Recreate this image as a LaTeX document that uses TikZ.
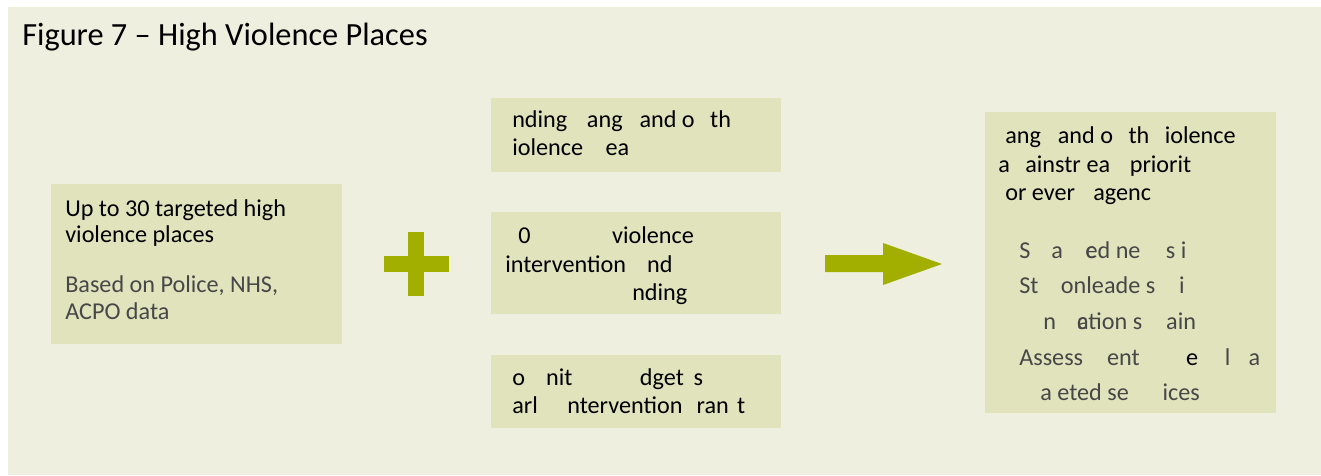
\documentclass[tikz,border=0pt]{standalone}
\usepackage{fontspec}
\setmainfont{Carlito}
\definecolor{PageBg}{HTML}{EFEFDF}
\definecolor{BoxFill}{HTML}{E1E3BD}
\definecolor{Olive}{HTML}{A3AF00}
\newcommand\boxfont{\fontsize{17.2}{20}\selectfont}
\newcommand\gap[1]{\hspace*{#1pt}}
\tikzset{
  box/.style={fill=BoxFill, draw=none, inner sep=0pt},
  rowtext/.style={anchor=base west, inner sep=0pt, font=\boxfont},
  lightrow/.style={rowtext, text=black!72},
}
\begin{document}
\begin{tikzpicture}[x=0.025cm,y=-0.025cm]
		\useasboundingbox (0,0) rectangle (1321,475);
		\fill[PageBg] (8,7) rectangle (1321,475);
		\node[anchor=base west, inner sep=0pt, font=\fontsize{23}{27}\selectfont] (Title) at (22,45) {Figure 7 -- High Violence Places};
		
		% Boxes
		\node[box, minimum width=7.275cm, minimum height=4cm] (Places) at (196.5,264) {};
		\node[box, minimum width=7.25cm, minimum height=1.85cm] (Funding) at (636,135) {};
		\node[box, minimum width=7.25cm, minimum height=2.55cm] (Intervention) at (636,263) {};
		\node[box, minimum width=7.25cm, minimum height=1.825cm] (Budgets) at (636,391.5) {};
		\node[box, minimum width=7.275cm, minimum height=7.525cm] (Priority) at (1130.5,262.5) {};
		
		% Plus and arrow
		\fill[Olive] (408,232) rectangle (424,296);
		\fill[Olive] (384,256) rectangle (449,272);
		\fill[Olive] (825,255) -- (883,255) -- (883,243) -- (942,264) -- (883,285) -- (883,272) -- (825,272) -- cycle;
		
		% Left box
		\node[rowtext] (Places1) at (65,216) {Up to 30 targeted high};
		\node[rowtext] (Places2) at (65,242) {violence places};
		\node[lightrow] (Places3) at (65,292) {Based on Police, NHS,};
		\node[lightrow] (Places4) at (65,319) {ACPO data};
		
		% Middle boxes
		\node[rowtext] (Funding1) at (512,127) {nding\gap{14}ang\gap{12}and o\gap{11}th};
		\node[rowtext] (Funding2) at (512,155) {iolence\gap{16}ea};
		
		\node[rowtext] (Intervention1) at (518,243) {0\gap{58}violence};
		\node[rowtext] (Intervention2) at (505,272) {intervention\gap{15}nd};
		\node[rowtext] (Intervention3) at (632,300) {nding};
		
		\node[rowtext] (Budgets1) at (512,385) {o\gap{15}nit\gap{48}dget\gap{7}s};
		\node[rowtext] (Budgets2) at (512,413) {arl\gap{21}ntervention\gap{10}ran\gap{6}t};
		
		% Right box
		\node[rowtext] (Priority1) at (1005,143) {ang\gap{12}and o\gap{11}th\gap{11}iolence};
		\node[rowtext] (Priority2) at (998,172) {a\gap{11}ainstr\gap{4}ea\gap{14}priorit};
		\node[rowtext] (Priority3) at (1005,200) {or ever\gap{13}agenc};
		
		\node[lightrow] (Priority4) at (1019,258) {S\gap{15}a\gap{16}{\rlap{c}e}d ne\gap{18}s i};
		\node[lightrow] (Priority5) at (1019,293) {St\gap{16}onleade s\gap{17}i};
		\node[lightrow] (Priority6) at (1043,329) {n\gap{15}{\rlap{c}a}tion s\gap{17}ain};
		\node[lightrow] (Priority7) at (1019,365) {Assess\gap{17}ent\gap{33}\textcolor{black}{e}\gap{19}l\gap{13}a};
		\node[lightrow] (Priority8) at (1040,400) {a eted se\gap{24}ices};
		
	\end{tikzpicture}
\end{document}
